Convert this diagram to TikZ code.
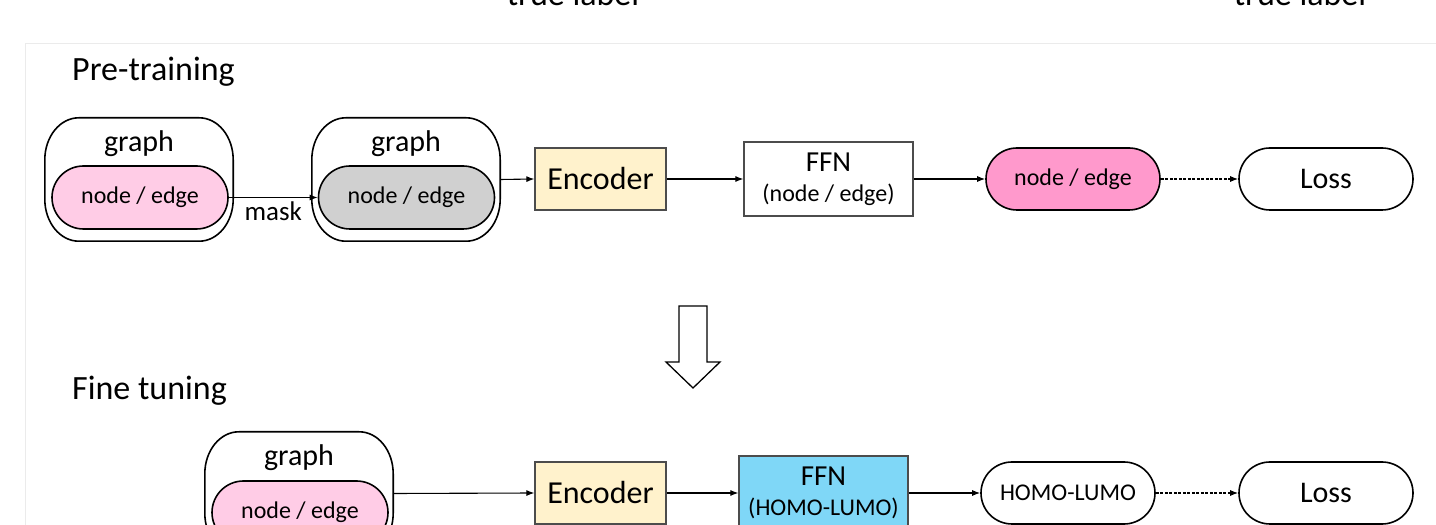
\documentclass[tikz,border=0pt]{standalone}
\usepackage{fontspec}
\setmainfont{Carlito}
\usetikzlibrary{arrows.meta,shapes.misc}

\definecolor{lightpink}{HTML}{FFCCE6}
\definecolor{hotpink}{HTML}{FF99CC}
\definecolor{maskgrey}{HTML}{D0D0D0}
\definecolor{encfill}{HTML}{FFF2CC}
\definecolor{ffnblue}{HTML}{7FD7F7}
\definecolor{framegrey}{HTML}{EBEBEB}

\newcommand{\fs}[1]{\fontsize{#1}{#1}\selectfont}

\tikzset{
  heading/.style={anchor=base west, inner sep=0pt, font=\fs{34}},
  gframe/.style={draw=none, minimum width=188pt, minimum height=123pt, inner sep=0pt},
  gline/.style={line width=1.6pt},
  gtext/.style={inner sep=0pt, font=\fs{30}},
  pill/.style={rounded rectangle, draw, line width=1.6pt, minimum width=176pt,
    minimum height=63pt, inner sep=0pt, font=\fs{24}},
  outpill/.style={pill, minimum width=174pt, minimum height=62pt},
  encbox/.style={draw=black!70, line width=1.2pt, fill=encfill, minimum width=131pt,
    minimum height=62pt, inner sep=0pt, font=\fs{32}},
  ffnbox/.style={draw=black!70, line width=1.2pt, minimum width=169pt,
    minimum height=74pt, inner sep=0pt, align=center,
    font=\fontsize{24}{30}\selectfont},
  conn/.style={line width=1.1pt, -{Latex[length=8pt,width=6pt]}},
  dconn/.style={conn, dash pattern=on 3pt off 1.5pt},
}

\begin{document}
\begin{tikzpicture}[x=1pt,y=1pt]
  \path[use as bounding box] (0,0) rectangle (1436,525);
  \clip (0,0) rectangle (1436,525);

  % light panel edge
  \draw[framegrey, line width=1pt] (1436,481) -- (25,481) -- (25,0);

  % labels cut by the top edge
  \node[anchor=base, inner sep=0pt, font=\fs{34}] (tl1) at (573,519) {true label};
  \node[anchor=base, inner sep=0pt, font=\fs{34}] (tl2) at (1300,519) {true label};

  % section headings
  \node[heading] (pre) at (72,444) {Pre-training};
  \node[heading] (fine) at (72,125) {Fine tuning};

  % ---------- pre-training row ----------
  \node[gframe] (g1) at (139,345.5) {};
  \node[gtext] (g1t) at (139,381) {graph};
  \node[pill, fill=lightpink] (p1) at (140,327.5) {node / edge};

  \node[gframe] (g2) at (406,345.5) {};
  \node[gtext] (g2t) at (406,381) {graph};
  \node[pill, fill=maskgrey] (p2) at (406.5,327.5) {node / edge};

  \node[encbox] (enc1) at (600.5,346) {Encoder};
  \node[ffnbox] (ffn1) at (828.5,346)
    {{\fontsize{29}{30}\selectfont FFN}\\(node / edge)};
  \node[outpill, fill=hotpink] (out1) at (1073,346) {node / edge};
  \node[outpill, font=\fs{30}] (loss1) at (1326,346) {Loss};

  \draw[conn] (p1.east) -- node[below=4pt, font=\fs{27}, inner sep=0pt] (mask) {mask} (p2.west);
  \draw[conn] (g2.east) -- (enc1.west);
  \draw[conn] (enc1.east) -- (ffn1.west);
  \draw[conn] (ffn1.east) -- (out1.west);
  \draw[dconn] (out1.east) -- (loss1.west);

  % ---------- transition arrow ----------
  \draw[line width=1.3pt, fill=white]
    (679,219) -- (707,219) -- (707,163) -- (720,163) -- (693,137)
    -- (666,163) -- (679,163) -- cycle;

  % ---------- fine-tuning row ----------
  \node[gframe] (g3) at (299,31.5) {};
  \node[gtext] (g3t) at (299,67) {graph};
  \node[pill, fill=lightpink] (p3) at (300,12.5) {node / edge};

  \node[encbox] (enc2) at (600.5,32) {Encoder};
  \node[ffnbox, fill=ffnblue] (ffn2) at (823.5,32)
    {{\fontsize{29}{30}\selectfont FFN}\\(HOMO-LUMO)};
  \node[outpill] (hl) at (1068,32) {HOMO-LUMO};
  \node[outpill, font=\fs{30}] (loss2) at (1326,32) {Loss};

  \draw[conn] (g3.east) -- (enc2.west);
  \draw[conn] (enc2.east) -- (ffn2.west);
  \draw[conn] (ffn2.east) -- (hl.west);
  \draw[dconn] (hl.east) -- (loss2.west);

  % graph containers with elliptic corners
  \foreach \n in {g1,g2,g3} {
    \draw[gline]
      ([xshift=34pt]\n.north west) -- ([xshift=-34pt]\n.north east)
      arc[start angle=90, end angle=0, x radius=34pt, y radius=42pt]
      -- ([yshift=42pt]\n.south east)
      arc[start angle=0, end angle=-90, x radius=34pt, y radius=42pt]
      -- ([xshift=34pt]\n.south west)
      arc[start angle=270, end angle=180, x radius=34pt, y radius=42pt]
      -- ([yshift=-42pt]\n.north west)
      arc[start angle=180, end angle=90, x radius=34pt, y radius=42pt]
      -- cycle;
  }
\end{tikzpicture}
\end{document}
